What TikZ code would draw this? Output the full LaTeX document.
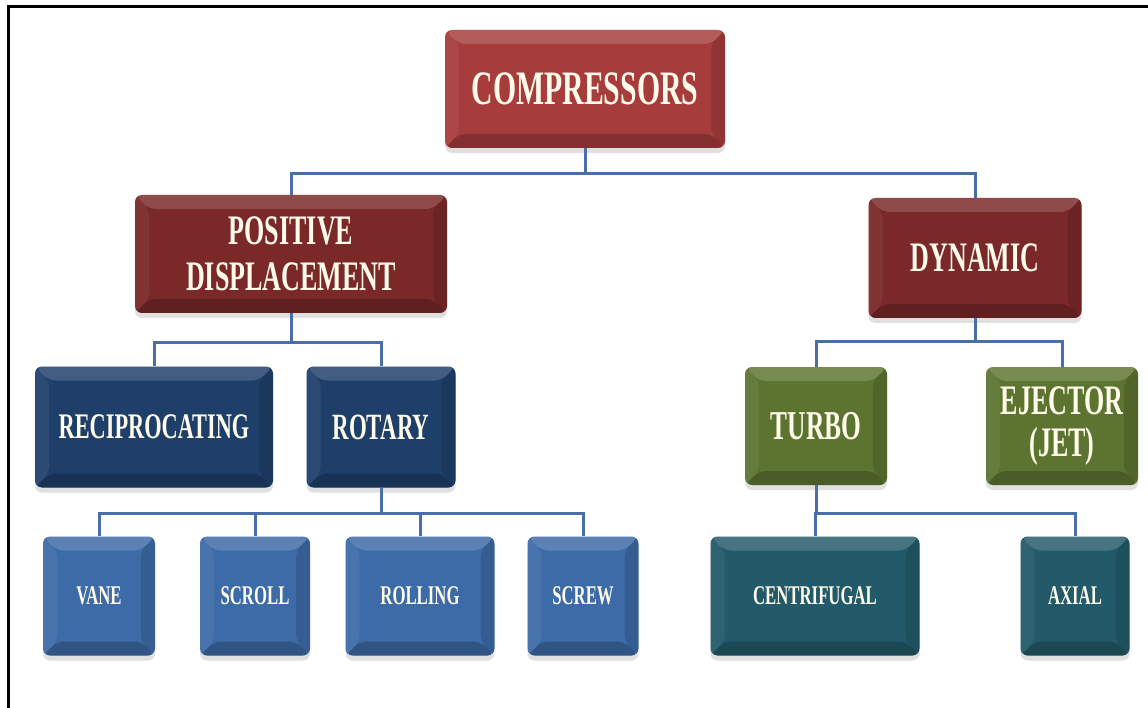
\documentclass[tikz,border=0pt]{standalone}
\usepackage{fontspec}
\newfontfamily\boxfont[FakeStretch=0.62]{Liberation Serif}
\usetikzlibrary{shadows}
\definecolor{cRed}{HTML}{A63C3C}
\definecolor{cMaroon}{HTML}{7A2828}
\definecolor{cNavy}{HTML}{1F3F6B}
\definecolor{cBlue}{HTML}{3D6BA7}
\definecolor{cOlive}{HTML}{5D7431}
\definecolor{cTeal}{HTML}{235A6A}
\definecolor{cLine}{HTML}{4A6FA8}
\definecolor{cText}{HTML}{FFFBEA}
\tikzset{
  box/.style={rounded corners=7pt, inner sep=0pt, align=center, text=cText,
    fill=#1,
    drop shadow={shadow xshift=0pt, shadow yshift=-5pt, opacity=.22, fill=black!55},
    path picture={
      \path (path picture bounding box.north west) coordinate (PNW)
            (path picture bounding box.north east) coordinate (PNE)
            (path picture bounding box.south west) coordinate (PSW)
            (path picture bounding box.south east) coordinate (PSE);
      \fill[white,opacity=.16] (PNW) -- (PNE) -- ([xshift=-14pt,yshift=-14pt]PNE) -- ([xshift=14pt,yshift=-14pt]PNW) -- cycle;
      \fill[white,opacity=.06] (PNW) -- ([xshift=14pt,yshift=-14pt]PNW) -- ([xshift=14pt,yshift=14pt]PSW) -- (PSW) -- cycle;
      \fill[black,opacity=.12] (PNE) -- ([xshift=-14pt,yshift=-14pt]PNE) -- ([xshift=-14pt,yshift=14pt]PSE) -- (PSE) -- cycle;
      \fill[black,opacity=.2] (PSW) -- ([xshift=14pt,yshift=14pt]PSW) -- ([xshift=-14pt,yshift=14pt]PSE) -- (PSE) -- cycle;
    }},
  fs/.style n args={2}{font=\boxfont\bfseries\fontsize{#1}{#2}\selectfont},
  link/.style={draw=cLine, line width=3pt},
}
\begin{document}
\begin{tikzpicture}[x=1pt,y=-1pt]
\useasboundingbox (0,0) rectangle (1148,708);
\fill[white] (0,0) rectangle (1148,708);
\draw[line width=2.6pt, black] (8.5,708) -- (8.5,6.3) -- (1148,6.3);

% nodes
\node[box=cRed, fs={48}{52}, minimum width=280pt, minimum height=118pt] (comp) at (585,89) {COMPRESSORS};
\node[box=cMaroon, fs={42}{46}, minimum width=312pt, minimum height=118pt] (pd) at (291,254) {POSITIVE\\DISPLACEMENT};
\node[box=cMaroon, fs={42}{46}, minimum width=213pt, minimum height=120pt] (dyn) at (975,258) {DYNAMIC};
\node[box=cNavy, fs={36}{40}, minimum width=238pt, minimum height=121pt] (recip) at (154,427) {RECIPROCATING};
\node[box=cNavy, fs={37}{40}, minimum width=149pt, minimum height=121pt] (rot) at (381,427) {ROTARY};
\node[box=cBlue, fs={27}{30}, minimum width=112pt, minimum height=119pt] (vane) at (99,596) {VANE};
\node[box=cBlue, fs={27}{30}, minimum width=110pt, minimum height=119pt] (scroll) at (255,596) {SCROLL};
\node[box=cBlue, fs={27}{30}, minimum width=149pt, minimum height=119pt] (rolling) at (420,596) {ROLLING};
\node[box=cBlue, fs={27}{30}, minimum width=111pt, minimum height=119pt] (screw) at (583,596) {SCREW};
\node[box=cOlive, fs={41}{44}, minimum width=142pt, minimum height=118pt] (turbo) at (816,426) {TURBO};
\node[box=cOlive, fs={42}{42}, minimum width=152pt, minimum height=118pt] (ejector) at (1062,426) {EJECTOR\\(JET)};
\node[box=cTeal, fs={27}{30}, minimum width=209pt, minimum height=119pt] (cent) at (815,596) {CENTRIFUGAL};
\node[box=cTeal, fs={27}{30}, minimum width=109pt, minimum height=119pt] (axial) at (1075,596) {AXIAL};

% junctions
\coordinate (j1) at (585,174);
\coordinate (j2) at (291,343);
\coordinate (j3) at (381,513);
\coordinate (j4) at (975,342);
\coordinate (j5) at (816,513);

\draw[link] (comp.south) -- (j1);
\draw[link] (j1) -| (pd.north);
\draw[link] (j1) -| (dyn.north);
\draw[link] (pd.south) -- (j2);
\draw[link] (j2) -| (recip.north);
\draw[link] (j2) -| (rot.north);
\draw[link] (rot.south) -- (j3);
\draw[link] (j3) -| (vane.north);
\draw[link] (j3) -| (scroll.north);
\draw[link] (j3) -| (rolling.north);
\draw[link] (j3) -| (screw.north);
\draw[link] (dyn.south) -- (j4);
\draw[link] (j4) -| (turbo.north);
\draw[link] (j4) -| (ejector.north);
\draw[link] (turbo.south) -- (j5);
\draw[link] (j5) -| (cent.north);
\draw[link] (j5) -| (axial.north);
\end{tikzpicture}
\end{document}
